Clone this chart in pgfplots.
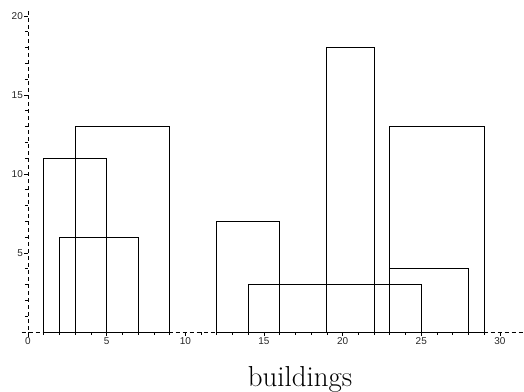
\documentclass[border=0pt]{standalone}
\usepackage{fontspec}
\usepackage{pgfplots}
\pgfplotsset{compat=1.18}
\newfontfamily\tickfont{Liberation Sans}
\begin{document}
\begin{tikzpicture}
\path[use as bounding box] (0,0) rectangle (524bp,392bp);
\begin{axis}[
  at={(21.7bp,55.3bp)}, anchor=south west,
  scale only axis, width=501.8bp, height=325.5bp,
  xmin=-0.4, xmax=31.5, ymin=-0.3, ymax=20.3,
  axis lines=middle,
  axis line style={-, dash pattern=on 4bp off 3bp, line width=0.8bp},
  xtick={0,5,...,30}, ytick={0,5,...,20},
  yticklabels={,5,10,15,20},
  hide obscured x ticks=false,
  minor x tick num=4, minor y tick num=4,
  tick align=outside,
  major tick length=4bp, minor tick length=3bp,
  tick style={black, line width=0.6bp},
  /pgf/number format/assume math mode=true,
  tick label style={font=\tickfont\fontsize{10}{11}\selectfont, text=black!85},
  xticklabel style={inner sep=1.5bp},
  yticklabel style={inner sep=1bp},
  clip=false,
]
\addplot[black, line width=0.8bp] coordinates {(1,0) (1,11) (5,11) (5,0) (1,0)};
\addplot[black, line width=0.8bp] coordinates {(2,0) (2,6) (7,6) (7,0) (2,0)};
\addplot[black, line width=0.8bp] coordinates {(3,0) (3,13) (9,13) (9,0) (3,0)};
\addplot[black, line width=0.8bp] coordinates {(12,0) (12,7) (16,7) (16,0) (12,0)};
\addplot[black, line width=0.8bp] coordinates {(14,0) (14,3) (25,3) (25,0) (14,0)};
\addplot[black, line width=0.8bp] coordinates {(19,0) (19,18) (22,18) (22,0) (19,0)};
\addplot[black, line width=0.8bp] coordinates {(23,0) (23,13) (29,13) (29,0) (23,0)};
\addplot[black, line width=0.8bp] coordinates {(23,0) (23,4) (28,4) (28,0) (23,0)};
\end{axis}
\node[anchor=base, font=\fontsize{29}{30}\selectfont, inner sep=0pt] at (300bp,5.3bp) {buildings};
\end{tikzpicture}
\end{document}
